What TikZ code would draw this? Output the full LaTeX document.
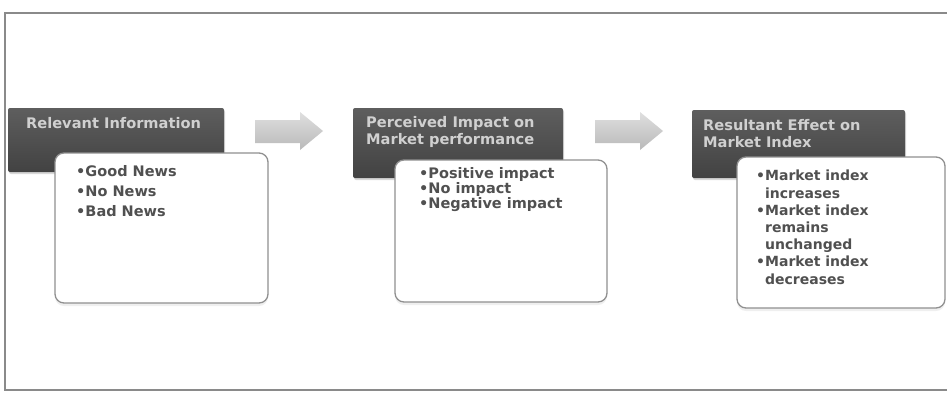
\documentclass[tikz,border=0pt]{standalone}
\usepackage{fontspec}
\setmainfont{DejaVu Sans}
\usetikzlibrary{shadows,shapes.arrows}
\definecolor{darkbox}{HTML}{4E4E4E}
\definecolor{darkboxtop}{HTML}{5E5E5E}
\definecolor{darkboxbot}{HTML}{424242}
\definecolor{titletext}{HTML}{D0D0D0}
\definecolor{bodytext}{HTML}{505050}
\definecolor{boxline}{HTML}{909090}
\definecolor{framecol}{HTML}{8A8A8A}
\tikzset{
  headbox/.style={rounded corners=2pt, top color=darkboxtop, bottom color=darkboxbot,
    drop shadow={opacity=0.3, shadow xshift=1pt, shadow yshift=-2pt}},
  listbox/.style={rounded corners=9pt, fill=white, draw=boxline, line width=1.3pt,
    drop shadow={opacity=0.12, shadow xshift=0pt, shadow yshift=-3pt}},
  titlelbl/.style={anchor=west, inner sep=0pt, text=titletext,
    font=\fontsize{14.6}{17}\selectfont\bfseries, align=left},
  listlbl/.style={anchor=north west, inner sep=0pt, text=bodytext, align=left},
  flowarrow/.style={top color=gray!25, bottom color=gray!55, draw=none}
}
\begin{document}
\begin{tikzpicture}[x=1pt,y=-1pt]
\useasboundingbox (0,0) rectangle (947,394);
\fill[white] (0,0) rectangle (947,394);
% outer frame
\draw[framecol, line width=1.2pt] (5,13) rectangle (960,390);

% box 1
\path[headbox] (8,108) rectangle (224,172);
\node[titlelbl] (t1) at (26,123) {Relevant Information};
\path[listbox] (55,153) rectangle (268,303);
\node[listlbl, font=\fontsize{14.5}{20}\selectfont\bfseries] (l1) at (76,165)
  {•Good News\\•No News\\•Bad News};

% box 2
\path[headbox] (353,108) rectangle (563,178);
\node[titlelbl] (t2) at (366,131.5) {Perceived Impact on\\Market performance};
\path[listbox] (395,160) rectangle (607,302);
\node[listlbl, font=\fontsize{14.5}{14.8}\selectfont\bfseries] (l2) at (419,167.5)
  {•Positive impact\\•No impact\\•Negative impact};

% box 3
\path[headbox] (692,110) rectangle (905,178);
\node[titlelbl] (t3) at (703,133.5) {Resultant Effect on\\Market Index};
\path[listbox] (737,157) rectangle (945,308);
\node[listlbl, font=\fontsize{14}{17.2}\selectfont\bfseries] (l3) at (756,170)
  {•Market index\\\phantom{•}increases\\•Market index\\\phantom{•}remains\\\phantom{•}unchanged\\•Market index\\\phantom{•}decreases};

% block arrows
\path[flowarrow] (255,120) -- (300,120) -- (300,112) -- (323,131) -- (300,150) -- (300,143) -- (255,143) -- cycle;
\path[flowarrow] (595,120) -- (640,120) -- (640,112) -- (663,131) -- (640,150) -- (640,143) -- (595,143) -- cycle;
\end{tikzpicture}
\end{document}
